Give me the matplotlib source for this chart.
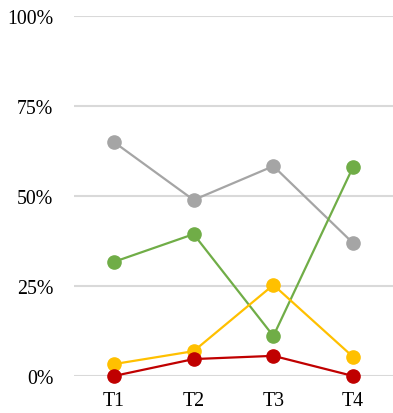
import matplotlib.pyplot as plt
from matplotlib.ticker import PercentFormatter

plt.rcParams['font.family'] = ['Liberation Serif', 'DejaVu Serif']

# Datos
trimestres = ['T1', 'T2', 'T3', 'T4']
gris = [65.0, 48.9, 58.3, 36.9]
verde = [31.7, 39.4, 11.1, 58.1]
amarillo = [3.3, 6.9, 25.3, 5.3]
rojo = [0.0, 4.7, 5.6, 0.0]

series = [
    (gris, '#A5A5A5'),
    (verde, '#70AD47'),
    (amarillo, '#FFC000'),
    (rojo, '#C00000'),
]

fig = plt.figure(figsize=(3.93, 4.14), dpi=100)
ax = fig.add_axes([74 / 393, 1 - 377 / 414, 319 / 393, 360 / 414])

x = range(len(trimestres))
for valores, color in series:
    ax.plot(x, valores, color=color, linewidth=1.6, marker='o', markersize=9.5,
            solid_capstyle='round', clip_on=False, zorder=3)

ax.set_xlim(-0.5, len(trimestres) - 0.5)
ax.set_ylim(0, 100)
ax.set_yticks([0, 25, 50, 75, 100])
ax.yaxis.set_major_formatter(PercentFormatter(decimals=0))
ax.set_xticks(list(x))
ax.set_xticklabels(trimestres)

ax.grid(True, axis='y', color='#D9D9D9', linewidth=1.5, zorder=0)
for s in ax.spines.values():
    s.set_visible(False)
ax.tick_params(axis='both', length=0, labelsize=14.3, colors='black')
ax.tick_params(axis='y', pad=15)
ax.tick_params(axis='x', pad=11)

plt.savefig('out.png', dpi=100)
